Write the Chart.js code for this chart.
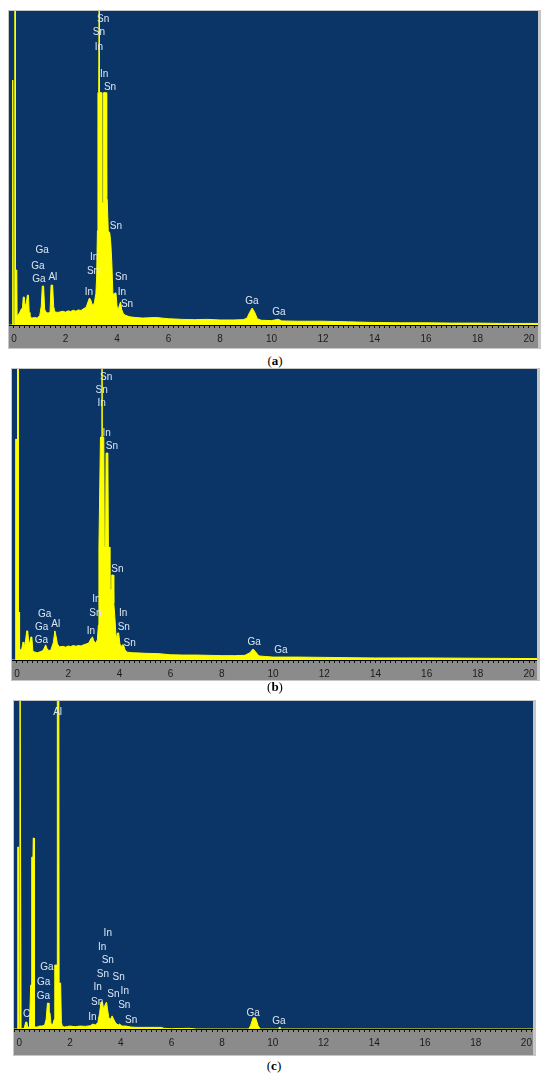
<!DOCTYPE html>
<html>
<head>
<meta charset="utf-8">
<script src="https://cdn.jsdelivr.net/npm/chart.js@4.4.0/dist/chart.umd.min.js"></script>
<style>
    body { margin: 0; width: 550px; height: 1080px; background: #fff; position: relative; overflow: hidden; }
    .panel { position: absolute; border: 1px solid #c6c6c6; border-right-width: 3px; }
    .panel canvas { display: block; }
    .caption { position: absolute; width: 60px; text-align: center; line-height: 16px;
               font-family: 'Liberation Serif', 'DejaVu Serif', serif; font-size: 13px; color: #000; }
</style>
</head>
<body>
<div class="panel" style="left:8px; top:10px;"><canvas id="chartA" width="529" height="337"></canvas></div>
<div class="caption" style="left:245px; top:353px;">(<b>a</b>)</div>

<div class="panel" style="left:11px; top:368px;"><canvas id="chartB" width="525" height="311"></canvas></div>
<div class="caption" style="left:245px; top:679px;">(<b>b</b>)</div>

<div class="panel" style="left:13px; top:700px;"><canvas id="chartC" width="519" height="354"></canvas></div>
<div class="caption" style="left:244px; top:1058px;">(<b>c</b>)</div>

<script>
// ====================================
// DATOS (keV / cuentas, techo del grafico = 1000)
// ====================================

// --- Espectro (a) ---
const energiesA = [-0.19, -0.07, -0.06, -0.04, -0.03, 0.03, 0.04, 0.05, 0.06, 0.11, 0.12, 0.16, 0.22, 0.28, 0.33,
    0.36, 0.40, 0.43, 0.48, 0.52, 0.56, 0.59, 0.62, 0.70, 0.80, 0.90, 1.00, 1.06, 1.10, 1.15, 1.19, 1.25, 1.32,
    1.40, 1.44, 1.50, 1.54, 1.58, 1.70, 1.80, 1.90, 2.00, 2.10, 2.20, 2.30, 2.40, 2.50, 2.60, 2.70, 2.80, 2.88,
    2.93, 2.98, 3.05, 3.12, 3.18, 3.21, 3.24, 3.26, 3.29, 3.30, 3.31, 3.32, 3.40, 3.41, 3.46, 3.48, 3.58, 3.60,
    3.62, 3.66, 3.72, 3.76, 3.80, 3.84, 3.88, 3.92, 3.96, 4.00, 4.05, 4.10, 4.14, 4.18, 4.25, 4.35, 4.50, 4.70,
    5.00, 5.50, 6.00, 6.50, 7.00, 7.50, 8.00, 8.50, 8.90, 9.05, 9.15, 9.25, 9.35, 9.45, 9.60, 10.00, 10.26, 10.40,
    11.00, 12.00, 13.00, 14.00, 15.00, 16.00, 17.00, 18.00, 19.00, 20.00, 20.35];
const countsA = [0, 0, 780, 780, 0, 0, 1100, 1100, 175, 175, 30, 32, 40, 50, 55,
    89, 89, 60, 70, 95, 95, 40, 25, 22, 24, 22, 30, 60, 124, 124, 50, 40, 38,
    40, 127, 127, 60, 42, 40, 42, 44, 41, 45, 43, 47, 44, 48, 46, 52, 56, 75,
    86, 80, 62, 70, 100, 153, 300, 740, 740, 740, 1100, 740, 740, 389, 389, 740, 740, 408,
    400, 300, 293, 260, 197, 102, 95, 102, 102, 60, 48, 65, 73, 50, 35, 30, 26, 24,
    22, 24, 20, 18, 17, 18, 16, 16, 17, 22, 40, 54, 40, 20, 15, 14, 18, 13,
    12, 12, 10, 8, 7, 7, 6, 6, 5, 5, 5];
const peakNamesA = ['Sn', 'Sn', 'In', 'In', 'Sn', 'Sn', 'Ga', 'Ga', 'Ga', 'Al', 'In', 'Sn', 'In', 'Sn', 'In', 'Sn', 'Ga', 'Ga'];
const peakEnergiesA = [3.46, 3.30, 3.30, 3.50, 3.73, 3.96, 1.09, 0.93, 0.97, 1.51, 3.11, 3.07, 2.91, 4.16, 4.19, 4.39, 9.24, 10.29];
const peakLevelsA = [975, 933, 885, 799, 758, 315, 239, 188, 146, 153, 217, 172, 105, 153, 105, 67, 76, 41];

// --- Espectro (b) ---
const energiesB = [-0.20, -0.06, -0.05, -0.03, -0.02, 0.01, 0.02, 0.04, 0.05, 0.08, 0.10, 0.18, 0.24, 0.27, 0.32,
    0.38, 0.42, 0.46, 0.50, 0.54, 0.58, 0.62, 0.70, 0.80, 0.90, 1.00, 1.06, 1.12, 1.17, 1.25, 1.32, 1.42, 1.48,
    1.53, 1.58, 1.66, 1.80, 1.90, 2.00, 2.10, 2.20, 2.30, 2.40, 2.50, 2.60, 2.70, 2.80, 2.90, 2.95, 3.00, 3.08,
    3.14, 3.18, 3.20, 3.26, 3.31, 3.32, 3.33, 3.39, 3.41, 3.46, 3.48, 3.55, 3.57, 3.61, 3.63, 3.68, 3.70, 3.76,
    3.78, 3.82, 3.86, 3.90, 3.93, 3.97, 4.02, 4.07, 4.12, 4.16, 4.22, 4.30, 4.50, 4.80, 5.00, 5.50, 6.00, 6.50,
    7.00, 7.50, 8.00, 8.50, 8.90, 9.10, 9.22, 9.30, 9.45, 9.70, 10.00, 11.00, 12.00, 13.00, 14.00, 16.00, 18.00,
    20.00, 20.35];
const countsB = [0, 0, 759, 759, 0, 0, 1100, 1100, 165, 165, 34, 36, 62, 45, 55,
    100, 100, 58, 60, 79, 79, 30, 27, 25, 28, 32, 40, 52, 40, 32, 34, 60, 100,
    80, 55, 45, 47, 44, 48, 46, 50, 47, 50, 48, 52, 55, 58, 75, 79, 65, 58,
    70, 120, 385, 766, 766, 1100, 766, 766, 388, 388, 711, 711, 388, 388, 241, 241, 292, 292,
    196, 150, 93, 70, 93, 93, 55, 45, 52, 52, 35, 27, 25, 24, 23, 22, 18, 17,
    17, 16, 15, 15, 16, 25, 38, 30, 14, 12, 10, 10, 9, 8, 7, 7, 6,
    5, 5];
const peakNamesB = ['Sn', 'Sn', 'In', 'In', 'Sn', 'Sn', 'Ga', 'Ga', 'Ga', 'Al', 'In', 'Sn', 'In', 'In', 'Sn', 'Sn', 'Ga', 'Ga'];
const peakEnergiesB = [3.48, 3.31, 3.31, 3.50, 3.71, 3.92, 1.08, 0.96, 0.95, 1.51, 3.10, 3.06, 2.89, 4.15, 4.17, 4.40, 9.26, 10.31];
const peakLevelsB = [973, 928, 883, 780, 735, 313, 158, 113, 69, 124, 210, 162, 100, 162, 113, 58, 62, 34];

// --- Espectro (c) ---
const energiesC = [-0.21, -0.07, -0.06, -0.04, -0.03, 0.02, 0.03, 0.06, 0.07, 0.20, 0.25, 0.30, 0.33, 0.40, 0.45,
    0.48, 0.49, 0.54, 0.55, 0.58, 0.60, 0.70, 0.80, 0.90, 1.00, 1.06, 1.11, 1.16, 1.17, 1.21, 1.25, 1.32, 1.38,
    1.40, 1.49, 1.50, 1.56, 1.57, 1.63, 1.66, 1.70, 1.80, 1.90, 2.00, 2.20, 2.40, 2.60, 2.80, 2.90, 3.00, 3.10,
    3.17, 3.22, 3.28, 3.33, 3.38, 3.44, 3.48, 3.53, 3.60, 3.66, 3.72, 3.80, 3.90, 3.95, 4.05, 4.20, 4.40, 4.60,
    5.00, 5.60, 5.70, 6.00, 6.70, 7.00, 9.05, 9.12, 9.22, 9.32, 9.42, 9.50, 10.24, 10.26, 10.28, 20.26];
const countsC = [0, 0, 555, 555, 0, 0, 1100, 1100, 0, 3, 21, 21, 5, 6, 134,
    134, 524, 524, 582, 582, 6, 6, 9, 9, 12, 30, 79, 79, 49, 49, 15, 14, 30,
    195, 195, 1100, 1100, 140, 140, 20, 8, 6, 8, 9, 7, 9, 8, 10, 15, 12, 20,
    50, 82, 82, 58, 73, 82, 60, 34, 30, 40, 30, 18, 12, 15, 9, 9, 6, 5,
    5, 5, 2, 1, 2, 0, 0, 10, 34, 34, 10, 0, 0, 6, 0, 0];
const peakNamesC = ['Al', 'C', 'Ga', 'Ga', 'Ga', 'In', 'In', 'Sn', 'Sn', 'In', 'Sn', 'In', 'Sn', 'Sn', 'In', 'Sn', 'Sn', 'Ga', 'Ga'];
const peakEnergiesC = [1.51, 0.29, 1.09, 0.96, 0.95, 3.49, 3.27, 3.49, 3.30, 3.09, 3.07, 2.88, 3.92, 3.71, 4.16, 4.14, 4.41, 9.22, 10.24];
const peakLevelsC = [966, 46, 189, 143, 101, 293, 250, 210, 168, 128, 82, 37, 159, 107, 116, 73, 27, 49, 24];

// ====================================
// ESTILO
// ====================================

const PLOT_BLUE = '#0b3566';
const AXIS_GRAY = '#8b8b8b';
const SPECTRUM_YELLOW = '#ffff00';

// Fondo azul del area de datos y franja gris del eje
const spectrumBackground = {
    id: 'spectrumBackground',
    beforeDraw(chart) {
        const { ctx, chartArea: a } = chart;
        ctx.save();
        ctx.fillStyle = PLOT_BLUE;
        ctx.fillRect(a.left, a.top, a.right - a.left, a.bottom - a.top);
        ctx.fillStyle = AXIS_GRAY;
        ctx.fillRect(0, a.bottom, chart.width, chart.height - a.bottom);
        ctx.restore();
    }
};

// Etiquetas de los elementos sobre los picos
const peakLabels = {
    id: 'peakLabels',
    afterDatasetsDraw(chart, args, opts) {
        const { ctx, scales } = chart;
        ctx.save();
        ctx.font = '10px "Liberation Sans", Arial, sans-serif';
        ctx.fillStyle = '#dde7f2';
        ctx.textAlign = 'center';
        ctx.textBaseline = 'middle';
        opts.names.forEach((name, i) => {
            ctx.fillText(name, scales.x.getPixelForValue(opts.energies[i]), scales.y.getPixelForValue(opts.levels[i]));
        });
        ctx.restore();
    }
};

function drawSpectrum(canvasId, energies, counts, names, peakE, peakY, xMin, xMax, axisHeight) {
    const ctx = document.getElementById(canvasId);

    return new Chart(ctx, {
        type: 'line',
        data: {
            datasets: [{
                data: energies.map((e, i) => ({ x: e, y: counts[i] })),
                borderColor: SPECTRUM_YELLOW,
                backgroundColor: SPECTRUM_YELLOW,
                borderWidth: 1,
                pointRadius: 0,
                tension: 0,
                fill: 'origin'
            }]
        },
        options: {
            responsive: false,
            animation: false,
            devicePixelRatio: 1,
            layout: { padding: 0 },
            plugins: {
                legend: { display: false },
                tooltip: { enabled: false },
                peakLabels: { names: names, energies: peakE, levels: peakY }
            },
            scales: {
                x: {
                    type: 'linear',
                    min: xMin,
                    max: xMax,
                    afterFit: s => { s.height = axisHeight; s.paddingLeft = 0; s.paddingRight = 0; },
                    border: { color: '#000', width: 1 },
                    grid: { drawOnChartArea: false, drawTicks: true, tickLength: 3, tickColor: '#111' },
                    ticks: {
                        stepSize: 0.2,
                        includeBounds: false,
                        autoSkip: false,
                        maxRotation: 0,
                        padding: 5,
                        color: '#1c1c1c',
                        font: { family: '"Liberation Sans", Arial, sans-serif', size: 10 },
                        callback: v => (Math.abs(v - 2 * Math.round(v / 2)) < 1e-6 ? String(Math.round(v)) : '')
                    }
                },
                y: { display: false, min: 0, max: 1000 }
            }
        },
        plugins: [spectrumBackground, peakLabels]
    });
}

drawSpectrum('chartA', energiesA, countsA, peakNamesA, peakEnergiesA, peakLevelsA, -0.194, 20.35, 23);
drawSpectrum('chartB', energiesB, countsB, peakNamesB, peakEnergiesB, peakLevelsB, -0.195, 20.31, 20);
drawSpectrum('chartC', energiesC, countsC, peakNamesC, peakEnergiesC, peakLevelsC, -0.209, 20.26, 26);
</script>
</body>
</html>
